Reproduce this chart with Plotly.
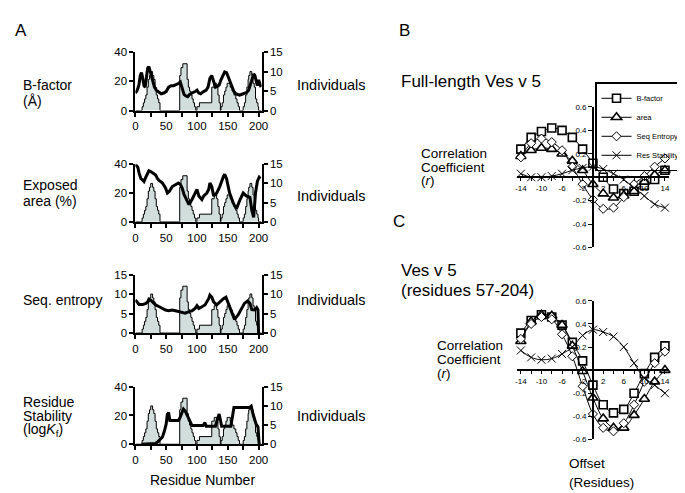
import plotly.graph_objects as go

# ---------------- data: panel A ----------------
res_bfac = [0, 2, 4, 6, 8, 10, 12, 14, 16, 18, 20, 22, 24, 26, 28, 31, 34, 38, 42, 46, 50, 54, 58, 62, 66, 70,
            73, 76, 79, 82, 85, 88, 91, 94, 97, 100, 103, 106, 109, 112, 115, 118, 121, 124, 127, 130, 133,
            136, 139, 142, 145, 148, 151, 154, 157, 160, 163, 166, 169, 172, 175, 178, 181, 184, 187, 190,
            192, 194, 196, 198, 200, 202, 204]
bfactor = [12, 13, 15, 18, 24, 26, 22, 17, 16, 22, 29, 30, 27, 23, 20, 16, 14, 12.5, 11.5, 12, 13, 16, 17, 17,
           17.5, 18.5, 19.5, 15, 11, 10, 9.5, 11, 12, 12.5, 13, 14, 12, 11.5, 12.5, 13, 14, 16, 22, 24, 20, 16,
           16.5, 17.5, 21, 24, 26.5, 26, 23, 20, 16, 13, 11.5, 11, 10.5, 11, 11.5, 12, 12.5, 14, 18, 22, 25,
           24, 20, 17, 21, 19, 16]

res_area = [0, 4, 6, 9, 12, 14, 17, 20, 22, 25, 28, 30, 33, 36, 38, 44, 49, 52, 55, 60, 65, 70, 73, 76, 79,
            84, 87, 92, 97, 100, 103, 108, 111, 116, 119, 121, 124, 127, 132, 137, 143, 145, 148, 153, 159,
            162, 164, 170, 175, 180, 186, 189, 192, 195, 198, 201, 203]
exposed_area = [40, 38, 34, 30, 29, 28, 31, 33.5, 35.5, 35, 34, 33.5, 32.5, 30, 29, 27, 23.5, 20, 21, 24.5,
                26, 27, 26, 23.5, 19, 14.5, 12, 15.5, 20, 22.5, 18, 15.5, 18, 20, 22.5, 27, 24.5, 18, 20,
                24.5, 31.5, 33, 30, 20, 13, 10, 9, 15.5, 20, 18, 17, 8, 3, 20, 28, 31, 30]

res_ent = [0, 4, 6, 12, 17, 20, 22, 25, 28, 33, 38, 44, 49, 54, 60, 65, 71, 76, 81, 87, 92, 97, 100, 103, 108,
           113, 119, 121, 124, 127, 132, 137, 143, 147, 151, 156, 161, 167, 172, 177, 182, 186, 189, 194, 197,
           199, 200]
seq_entropy = [8.5, 7.6, 7.3, 7.3, 7.6, 8, 8.7, 8.4, 8, 7.2, 6.8, 6.3, 5.9, 5.7, 5.9, 5.7, 5.5, 5.3, 5.1,
               5.5, 5.7, 6.3, 7, 6.3, 6.8, 7.2, 8.8, 9.7, 9.2, 8, 7.2, 8, 8.8, 9.2, 7.6, 5.1, 3.5, 4.7, 6.3,
               7.6, 8.2, 7.6, 6, 5.9, 6.5, 6, 0]

res_stab = [10, 28, 32, 36, 40, 44, 47, 50, 52, 54, 56, 70, 72, 75, 78, 81, 84, 87, 90, 92, 110, 113, 115, 130,
            133, 136, 138, 140, 155, 157, 160, 185, 188, 191, 194, 196, 199, 200, 201]
res_stability = [0, 0, 0.5, 1.5, 3, 5, 9, 14, 21, 22, 16.5, 16.5, 18, 22, 24.5, 23, 20, 17, 14, 13, 13, 15,
                 12.5, 12.5, 17, 21, 17, 12.5, 12.5, 19, 25.5, 25.5, 26.5, 21, 17, 14, 12, 8, 0]

hist_edges = [0, 11, 13, 15, 17, 19, 21, 23, 25, 28, 30, 32, 34, 36, 38, 40,
              72, 74, 77, 84, 86, 88, 90, 92, 94, 96, 98,
              100, 104, 124, 128, 132, 134, 136, 138,
              139, 141, 143, 145, 147, 149, 154, 157, 160, 163, 165, 167, 169,
              175, 177, 179, 181, 183, 184, 186, 189, 191, 193, 195, 197, 199, 200, 205]
individuals = [0, 1, 2, 3, 4, 6, 8, 9, 10, 9, 8, 6, 4, 3, 2, 0,
               9, 11, 12, 8, 6, 5, 4, 3, 2, 1, 0,
               1, 2, 6, 7, 6, 4, 2, 0,
               1, 2, 4, 5, 6, 7, 6, 5, 4, 3, 2, 1, 0,
               1, 2, 4, 6, 8, 9, 10, 9, 7, 6, 3, 2, 1, 0, 0]

a_xticks = [0, 25, 50, 75, 100, 125, 150, 175, 200]
a_xticktext = ["0", " ", "50", " ", "100", " ", "150", " ", "200"]

# ---------------- data: panels B and C ----------------
offsets = [-14, -12, -10, -8, -6, -4, -2, 0, 2, 4, 6, 8, 10, 12, 14]
full_bfactor = [0.24, 0.34, 0.39, 0.42, 0.40, 0.34, 0.24, 0.12, 0.00, -0.10, -0.14, -0.12, -0.07, -0.02, 0.06]
full_area = [0.18, 0.23, 0.25, 0.24, 0.20, 0.14, 0.06, -0.06, -0.14, -0.175, -0.155, -0.12, -0.04, 0.02, 0.06]
full_entropy = [0.17, 0.29, 0.33, 0.30, 0.23, 0.09, -0.06, -0.19, -0.27, -0.26, -0.17, -0.06, 0.01, 0.09, 0.16]
full_stability = [0.03, 0.00, 0.00, 0.01, 0.03, 0.06, 0.08, 0.09, 0.07, 0.03, -0.02, -0.09, -0.16, -0.23, -0.26]

trunc_bfactor = [0.32, 0.43, 0.48, 0.46, 0.39, 0.24, 0.08, -0.13, -0.30, -0.37, -0.34, -0.20, -0.03, 0.11, 0.21]
trunc_area = [0.25, 0.42, 0.48, 0.47, 0.39, 0.21, -0.01, -0.24, -0.42, -0.50, -0.50, -0.39, -0.25, -0.10, 0.00]
trunc_entropy = [0.27, 0.40, 0.46, 0.44, 0.31, 0.12, -0.14, -0.38, -0.50, -0.53, -0.46, -0.30, -0.10, 0.06, 0.16]
trunc_stability = [0.17, 0.11, 0.09, 0.10, 0.14, 0.20, 0.30, 0.35, 0.33, 0.29, 0.20, 0.06, -0.07, -0.13, -0.20]

bc_xticks = [-14, -12, -10, -8, -6, -4, -2, 2, 4, 6, 8, 10, 12, 14]
bc_xticktext = ["-14", " ", "-10", " ", "-6", " ", "-2", "2", " ", "6", " ", "10", " ", "14"]
bc_yticks = [-0.6, -0.4, -0.2, 0.2, 0.4, 0.6]
bc_yticktext = ["-0.6", "-0.4", "-0.2", "0.2", "0.4", "0.6"]

series_names = ["B-factor", "area", "Seq Entropy", "Res Stability"]

# ---------------- layout helpers ----------------
W, H = 685, 493
FONT = "Liberation Sans, Arial, sans-serif"


def px(x):
    return x / W


def py(y):
    return 1 - y / H


fig = go.Figure()

a_panels = [
    (res_bfac, bfactor, [0, 40], [0, 20, 40], (39, 99)),
    (res_area, exposed_area, [0, 40], [0, 20, 40], (154, 213)),
    (res_ent, seq_entropy, [0, 15], [0, 5, 10, 15], (267, 327)),
    (res_stab, res_stability, [0, 40], [0, 20, 40], (382, 441)),
]

layout = dict(
    width=W, height=H, autosize=False,
    margin=dict(l=0, r=0, t=0, b=0),
    paper_bgcolor="white", plot_bgcolor="rgba(0,0,0,0)",
    font=dict(family=FONT, color="black", size=11),
    showlegend=True,
)

for k, (xs, ys, yr, yt, (ytop, ybot)) in enumerate(a_panels):
    xi = k + 1
    yb = 2 * k + 1
    yo = 2 * k + 2
    dom_y = [py(ybot), py(ytop)]
    layout[f"xaxis{xi}"] = dict(
        domain=[px(126), px(254)], range=[0, 205], anchor=f"y{yb}",
        tickmode="array", tickvals=a_xticks, ticktext=a_xticktext,
        showline=True, linecolor="black", linewidth=2, ticks="outside",
        ticklen=4, tickwidth=1.5, tickcolor="black", showgrid=False, zeroline=False,
        tickfont=dict(size=11.5),
    )
    layout[f"yaxis{yb}"] = dict(
        domain=dom_y, range=[0, 15], anchor=f"x{xi}", side="right",
        tickmode="array", tickvals=[0, 5, 10, 15],
        showline=True, linecolor="black", linewidth=2, ticks="outside",
        ticklen=4, tickwidth=1.5, tickcolor="black", showgrid=False, zeroline=False,
        tickfont=dict(size=11.5),
    )
    layout[f"yaxis{yo}"] = dict(
        domain=dom_y, range=yr, anchor=f"x{xi}", side="left", overlaying=f"y{yb}",
        tickmode="array", tickvals=yt,
        showline=True, linecolor="black", linewidth=2, ticks="outside",
        ticklen=4, tickwidth=1.5, tickcolor="black", showgrid=False, zeroline=False,
        tickfont=dict(size=11.5),
    )
    fig.add_trace(go.Scatter(
        x=hist_edges, y=individuals, xaxis=f"x{xi}", yaxis=f"y{yb}",
        mode="lines", line=dict(shape="hv", color="black", width=1),
        fill="tozeroy", fillcolor="#d2dedc", showlegend=False, hoverinfo="skip",
    ))
    fig.add_trace(go.Scatter(
        x=xs, y=ys, xaxis=f"x{xi}", yaxis=f"y{yo}",
        mode="lines", line=dict(color="black", width=3),
        showlegend=False,
    ))

# ---------------- panels B and C ----------------
bc_xdom = [px(513), px(666.3)]
bc_zero_x = (bc_xdom[0] + bc_xdom[1]) / 2
bc_panels = [
    (5, 9, (95.3, 239.3), [full_bfactor, full_area, full_entropy, full_stability], True),
    (6, 10, (294, 436), [trunc_bfactor, trunc_area, trunc_entropy, trunc_stability], False),
]

marker_styles = [
    dict(symbol="square", size=8, color="white", line=dict(color="black", width=1.6)),
    dict(symbol="triangle-up", size=9, color="white", line=dict(color="black", width=1.6)),
    dict(symbol="diamond", size=7, color="white", line=dict(color="black", width=1)),
    dict(symbol="x-thin", size=8, color="black", line=dict(color="black", width=1)),
]

for xi, yi, (ytop, ybot), series, legend in bc_panels:
    dom_y = [py(ybot), py(ytop)]
    zero_y = (dom_y[0] + dom_y[1]) / 2
    layout[f"xaxis{xi}"] = dict(
        domain=bc_xdom, range=[-14.7, 14.7], anchor="free", position=zero_y,
        tickmode="array", tickvals=bc_xticks, ticktext=bc_xticktext,
        showline=True, linecolor="black", linewidth=2, ticks="outside",
        ticklen=3, tickwidth=1, tickcolor="black", showgrid=False, zeroline=False,
        tickfont=dict(size=8),
    )
    layout[f"yaxis{yi}"] = dict(
        domain=dom_y, range=[-0.6, 0.6], anchor="free", position=bc_zero_x,
        tickmode="array", tickvals=bc_yticks, ticktext=bc_yticktext,
        showline=True, linecolor="black", linewidth=1.5, ticks="outside",
        ticklen=4, tickwidth=1, tickcolor="black", showgrid=False, zeroline=False,
        tickfont=dict(size=8),
    )
    for name, vals, ms in zip(series_names, series, marker_styles):
        fig.add_trace(go.Scatter(
            x=offsets, y=vals, xaxis=f"x{xi}", yaxis=f"y{yi}", name=name,
            mode="lines+markers", line=dict(color="black", width=1, shape="spline"),
            marker=ms, showlegend=legend, cliponaxis=False,
        ))

layout["legend"] = dict(
    x=px(683), y=py(70), xanchor="right", yanchor="top",
    bordercolor="black", borderwidth=1.5, bgcolor="rgba(255,255,255,0)",
    font=dict(size=7.5, family=FONT), tracegroupgap=0, itemwidth=30,
)

# ---------------- text ----------------
ann = []


def text(s, x, y, size=14, xanchor="left"):
    ann.append(dict(text=s, x=px(x), y=py(y), xref="paper", yref="paper",
                    xanchor=xanchor, yanchor="middle", showarrow=False,
                    font=dict(size=size, family=FONT, color="black")))


text("A", 2, 17, 17)
text("B", 391, 17, 17)
text("C", 385, 213, 17)

text("B-factor", 10, 73)
text("(Å)", 10, 89)
text("Exposed", 10, 175)
text("area (%)", 10, 192)
text("Seq. entropy", 10, 293)
text("Residue", 10, 398)
text("Stability", 10, 412)
text("(log<i>K</i><sub>f</sub>)", 10, 426)
for yy in (73, 187, 293, 412):
    text("Individuals", 288, yy, 14.5)
text("Residue Number", 194, 478, 14, xanchor="center")

text("Full-length Ves v 5", 393, 69, 17)
text("Correlation", 413, 143, 13.5)
text("Coefficient", 413, 157, 13.5)
text("(<i>r</i>)", 413, 171, 13.5)

text("Ves v 5", 393, 263, 17)
text("(residues 57-204)", 393, 283, 17)
text("Correlation", 430, 340, 13.5)
text("Coefficient", 430, 354, 13.5)
text("(<i>r</i>)", 430, 368, 13.5)
text("Offset", 563, 461, 13.5)
text("(Residues)", 563, 480, 13.5)

layout["annotations"] = ann
fig.update_layout(**layout)
fig.write_html("out.html")
